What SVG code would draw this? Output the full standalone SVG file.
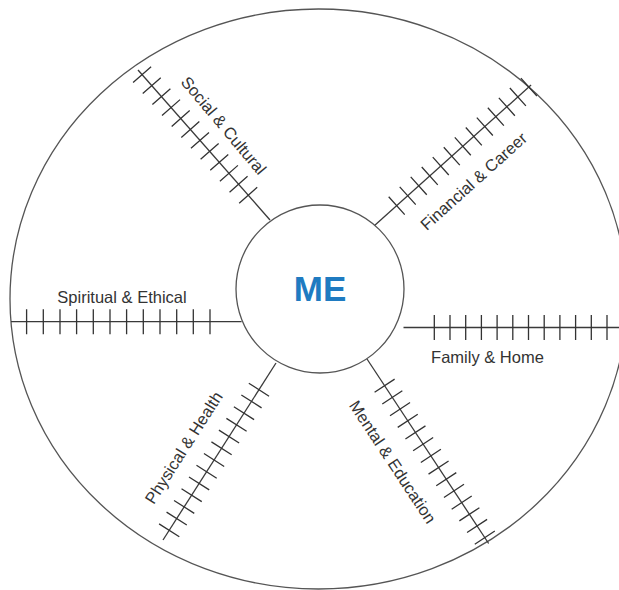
<svg xmlns="http://www.w3.org/2000/svg" width="619" height="590" viewBox="0 0 619 590">
<style>
.bg{fill:#ffffff}
.ring{fill:none;stroke:#555;stroke-width:1.3}
.hub{fill:#ffffff;stroke:#555;stroke-width:1.3}
.spoke{fill:none;stroke:#3a3a3a;stroke-width:1.3}
.tick{fill:none;stroke:#333;stroke-width:1.3}
.lbl{font-family:"Liberation Sans",Arial,sans-serif;font-size:16.5px;fill:#333;text-anchor:middle}
.me{font-family:"Liberation Sans",Arial,sans-serif;font-size:35px;font-weight:bold;fill:#1f7bc1;text-anchor:middle}
</style>
<rect class="bg" x="0" y="0" width="619" height="590"/>
<g id="wheel">
<ellipse class="ring" cx="318.5" cy="299" rx="308.5" ry="290"/>
</g>
<g id="connectors">
<g id="spoke-spiritual" transform="translate(241.6,321.7) rotate(180)">
<line class="spoke" x1="0" y1="0" x2="230.6" y2="0"/>
<path class="tick" d="M31.6,-12.5V12.5M48.3,-12.5V12.5M64.9,-12.5V12.5M81.6,-12.5V12.5M98.3,-12.5V12.5M115,-12.5V12.5M131.6,-12.5V12.5M148.3,-12.5V12.5M165,-12.5V12.5M181.6,-12.5V12.5M198.3,-12.5V12.5M215,-12.5V12.5"/>
</g>
<g id="spoke-family" transform="translate(403.5,327.5)">
<line class="spoke" x1="0" y1="0" x2="216" y2="0"/>
<path class="tick" d="M30.8,-12.5V12.5M46.5,-12.5V12.5M62.2,-12.5V12.5M77.9,-12.5V12.5M93.6,-12.5V12.5M109.3,-12.5V12.5M125,-12.5V12.5M140.7,-12.5V12.5M156.4,-12.5V12.5M172.1,-12.5V12.5M187.8,-12.5V12.5M203.5,-12.5V12.5"/>
</g>
<g id="spoke-social" transform="translate(270,220) rotate(-131.35)">
<line class="spoke" x1="0" y1="0" x2="199.8" y2="0"/>
<path class="tick" d="M33,-12V12M47.6,-12V12M62.2,-12V12M76.8,-12V12M91.4,-12V12M106,-12V12M120.6,-12V12M135.2,-12V12M149.8,-12V12M164.4,-12V12M179,-12V12M193.6,-12V12"/>
</g>
<g id="spoke-financial" transform="translate(374,226) rotate(-41.9)">
<line class="spoke" x1="0" y1="0" x2="211" y2="0"/>
<path class="tick" d="M30.5,-12V12M45.3,-12V12M60.1,-12V12M74.9,-12V12M89.7,-12V12M104.5,-12V12M119.3,-12V12M134.1,-12V12M148.9,-12V12M163.7,-12V12M178.5,-12V12M193.3,-12V12M208.1,-12V12"/>
</g>
<g id="spoke-physical" transform="translate(276,363) rotate(122.55)">
<line class="spoke" x1="0" y1="0" x2="210" y2="0"/>
<path class="tick" d="M31.7,-12V12M45.6,-12V12M59.5,-12V12M73.4,-12V12M87.3,-12V12M101.2,-12V12M115.1,-12V12M129,-12V12M142.9,-12V12M156.8,-12V12M170.7,-12V12M184.6,-12V12M198.5,-12V12"/>
</g>
<g id="spoke-mental" transform="translate(367,359) rotate(56.6)">
<line class="spoke" x1="0" y1="0" x2="221" y2="0"/>
<path class="tick" d="M32,-12V12M46,-12V12M60,-12V12M74,-12V12M88,-12V12M102,-12V12M116,-12V12M130,-12V12M144,-12V12M158,-12V12M172,-12V12M186,-12V12M200,-12V12M214,-12V12"/>
</g>
</g>
<g id="me">
<circle class="hub" cx="320" cy="289" r="84"/>
<text class="me" x="320" y="301">ME</text>
</g>
<g id="label-social"><text class="lbl" transform="translate(219.3,129.1) rotate(50)">Social &amp; Cultural</text></g>
<g id="label-financial"><text class="lbl" transform="translate(477.5,185.5) rotate(-42)">Financial &amp; Career</text></g>
<g id="label-spiritual"><text class="lbl" x="122" y="303">Spiritual &amp; Ethical</text></g>
<g id="label-family"><text class="lbl" x="487.5" y="363.3">Family &amp; Home</text></g>
<g id="label-physical"><text class="lbl" transform="translate(188.6,450.8) rotate(-57.5)">Physical &amp; Health</text></g>
<g id="label-mental"><text class="lbl" transform="translate(387.9,465.1) rotate(56.6)">Mental &amp; Education</text></g>
</svg>
